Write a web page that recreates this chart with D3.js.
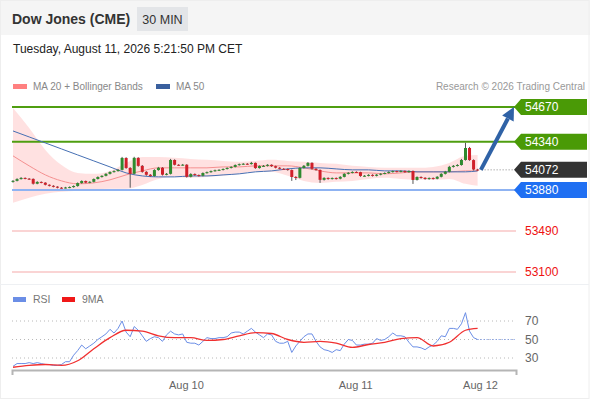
<!DOCTYPE html>
<html>
<head>
<meta charset="utf-8">
<script src="https://cdn.jsdelivr.net/npm/d3@7"></script>
<style>
    body { margin: 0; background: #fff; }
    svg { display: block; font-family: "Liberation Sans", Arial, sans-serif; }
</style>
</head>
<body>
<div id="chart"></div>
<script>
// candles, 30 min, index 0..115
const opens = [53958,53967,53984,53995,53988,53986,53940,53957,53950,53930,
    53920,53912,53902,53900,53904,53908,53918,53946,53966,53950,
    53958,53985,54004,54015,54034,54052,54060,54072,54185,54090,
    54035,54186,54110,54053,54025,54013,54070,54092,54026,54034,
    54166,54120,54118,54121,54006,54032,54022,54016,54042,54050,
    54060,54068,54072,54080,54090,54100,54118,54126,54130,54127,
    54138,54089,54108,54110,54120,54107,54092,54082,54080,54070,
    54004,53996,54090,54110,54138,54082,54071,53977,53995,53986,
    53994,53988,54005,54034,54044,54052,54050,54014,54016,54024,
    54015,54026,54035,54042,54052,54060,54054,54062,54050,54061,
    53976,54004,53996,53985,53994,53987,54006,54034,54054,54100,
    54110,54118,54166,54280,54165,54075];
const closes = [53967,53984,53995,53988,53986,53940,53957,53950,53930,53920,
    53912,53902,53900,53904,53908,53918,53946,53966,53950,53958,
    53985,54004,54015,54034,54052,54060,54072,54185,54090,54035,
    54186,54110,54053,54025,54013,54070,54092,54026,54034,54166,
    54120,54118,54121,54006,54032,54022,54016,54042,54050,54060,
    54068,54072,54080,54090,54100,54118,54126,54130,54127,54138,
    54089,54108,54110,54120,54107,54092,54082,54080,54070,54004,
    53996,54090,54110,54138,54082,54071,53977,53995,53986,53994,
    53988,54005,54034,54044,54052,54050,54014,54016,54024,54015,
    54026,54035,54042,54052,54060,54054,54062,54050,54061,53976,
    54004,53996,53985,53994,53987,54006,54034,54054,54100,54110,
    54118,54166,54280,54165,54075,54072];
const highs = [53975,53992,54003,54000,53994,53990,53964,53962,53954,53934,
    53926,53916,53908,53910,53914,53924,53952,53972,53970,53964,
    53990,54010,54020,54040,54058,54068,54080,54195,54192,54098,
    54196,54192,54118,54060,54032,54078,54100,54098,54042,54176,
    54172,54126,54128,54126,54040,54038,54028,54048,54056,54066,
    54074,54078,54086,54096,54106,54124,54132,54136,54136,54148,
    54142,54114,54118,54126,54124,54112,54098,54088,54086,54076,
    54012,54098,54118,54146,54144,54088,54076,54002,54000,54000,
    54000,54012,54040,54050,54058,54058,54054,54022,54030,54030,
    54032,54040,54048,54058,54066,54064,54068,54066,54068,54066,
    54010,54010,54002,54000,54000,54012,54040,54062,54110,54118,
    54126,54176,54330,54290,54172,54082];
const lows = [53950,53962,53980,53982,53978,53932,53935,53944,53924,53914,
    53905,53896,53893,53895,53898,53902,53912,53940,53944,53945,
    53952,53980,53998,54010,54028,54046,54055,54066,54082,53902,
    54028,54102,54045,54016,54005,54008,54064,54018,54020,54028,
    54114,54110,54112,53998,54000,54015,54008,54010,54036,54044,
    54055,54062,54066,54075,54085,54095,54112,54120,54120,54122,
    54082,54084,54102,54104,54100,54086,54076,54074,54064,53967,
    53975,53990,54084,54104,54074,54064,53948,53970,53978,53980,
    53980,53982,54000,54028,54038,54042,54006,54008,54010,54008,
    54010,54020,54030,54036,54046,54048,54048,54044,54044,53938,
    53970,53988,53978,53978,53980,53982,54000,54028,54048,54094,
    54104,54112,54160,54158,54066,54062];

// indicators, sampled every 4 candles
const indIdx = [0,4,8,12,16,20,24,28,32,36,40,44,48,52,56,60,64,68,72,76,80,84,88,92,96,100,104,108,112,115];
const ma20 = [54205,54110,54024,53967,53939,53948,53977,54024,54062,54091,54091,54091,54091,54100,54100,
    54110,54110,54110,54091,54062,54043,54043,54043,54034,54043,54053,54053,54053,54062,54062];
const ma50 = [54442,54385,54328,54271,54214,54157,54100,54043,54014,54005,54005,54014,54014,54024,54034,
    54053,54062,54081,54091,54091,54081,54072,54072,54062,54062,54053,54053,54053,54053,54062];
const bandUpper = [54660,54470,54262,54119,54043,54034,54062,54138,54195,54195,54186,54176,54167,54157,54148,
    54157,54167,54157,54148,54138,54129,54110,54100,54091,54091,54091,54100,54138,54205,54214];
const bandLower = [53758,53806,53844,53863,53872,53882,53891,53891,53929,53986,54005,53996,54005,54015,54034,
    54053,54053,54015,53967,53948,53958,53967,53986,53996,53986,53977,53977,53986,53939,53920];

// RSI per candle, 9MA sampled
const rsi = [21,24,24,24,25,24,25,24,23,23,22,22,23,26,26,33,38,44,40,43,
    46,50,53,56,61,57,62,70,58,53,64,60,54,48,51,53,52,48,55,59,
    56,55,56,47,46,46,44,48,52,51,51,52,52,53,57,58,58,56,59,62,
    58,55,52,56,55,48,46,46,48,36,43,48,53,56,56,48,42,39,38,36,
    39,38,45,50,49,44,44,45,45,46,51,49,50,53,57,54,54,53,47,42,
    42,41,39,42,44,48,54,53,62,62,61,67,79,59,52,50];
const rsiMa = [20,22,23,22,27,40,52,60,59,54,52,52,49,50,54,57.5,56.5,50,47,48,46,41.5,44.6,47,51,52,43,47,60,62];

const levels = [
    { value: 54670, kind: 'resistance' },
    { value: 54340, kind: 'resistance' },
    { value: 53880, kind: 'pivot' },
    { value: 53490, kind: 'support' },
    { value: 53100, kind: 'support' }
];
const lastPrice = 54072;
const target = 54670;
const rsiTicks = [70, 50, 30];
const timeTicks = [42.8, 84.7, 115.6];
const timeLabels = ['Aug 10', 'Aug 11', 'Aug 12'];

const width = 590, height = 400;

const svg = d3.select('#chart').append('svg')
    .attr('width', width)
    .attr('height', height);

// header band
svg.append('rect')
    .attr('width', width).attr('height', 35)
    .attr('fill', '#f5f5f5');
svg.append('text')
    .attr('x', 12).attr('y', 24)
    .attr('font-size', 14).attr('font-weight', 'bold')
    .attr('fill', '#333')
    .text('Dow Jones (CME)');
svg.append('rect')
    .attr('x', 137).attr('y', 7).attr('width', 51).attr('height', 24)
    .attr('fill', '#e3e5e8');
svg.append('text')
    .attr('x', 162.5).attr('y', 23.5)
    .attr('text-anchor', 'middle')
    .attr('font-size', 12.5).attr('fill', '#333')
    .text('30 MIN');
svg.append('text')
    .attr('x', 13).attr('y', 53)
    .attr('font-size', 12).attr('fill', '#222')
    .text('Tuesday, August 11, 2026 5:21:50 PM CET');

// outer frame, panel separator
svg.append('rect')
    .attr('x', 0.5).attr('y', 0.5).attr('width', width - 1.5).attr('height', height - 2)
    .attr('fill', 'none').attr('stroke', '#eeeeee');
svg.append('line')
    .attr('x1', 0).attr('x2', width - 1).attr('y1', 284.5).attr('y2', 284.5)
    .attr('stroke', '#eef0f3');

// legend
const legend = [
    { x: 13, color: '#ff8080', label: 'MA 20 + Bollinger Bands' },
    { x: 156, color: '#3a609e', label: 'MA 50' }
];
legend.forEach(d => {
    svg.append('rect').attr('x', d.x).attr('y', 84).attr('width', 14).attr('height', 5).attr('fill', d.color);
    svg.append('text').attr('x', d.x + 20).attr('y', 90)
        .attr('font-size', 10).attr('fill', '#888').text(d.label);
});
svg.append('text')
    .attr('x', 585).attr('y', 90)
    .attr('text-anchor', 'end')
    .attr('font-size', 10).attr('fill', '#999')
    .text('Research \u00a9 2026 Trading Central');

// scales
const x = d3.scaleLinear().domain([-0.25, 124.5]).range([12, 516]);
const y = d3.scaleLinear().domain([53100, 54670]).range([272, 107]);
const yR = d3.scaleLinear().domain([30, 70]).range([358, 321]);

const main = svg.append('g');

// bollinger band
const bandData = indIdx.map((d, i) => ({ i: d, up: bandUpper[i], lo: bandLower[i], m20: ma20[i], m50: ma50[i] }));
main.append('path')
    .datum(bandData)
    .attr('fill', '#ffdede')
    .attr('opacity', 0.9)
    .attr('d', d3.area().curve(d3.curveMonotoneX)
        .x(d => x(d.i)).y0(d => y(d.lo)).y1(d => y(d.up)));

// level lines
const levelStyle = {
    resistance: { stroke: '#4f9e10', width: 2 },
    pivot: { stroke: '#8fb3f2', width: 2 },
    support: { stroke: '#f6a9a9', width: 1.2 }
};
main.selectAll('.level')
    .data(levels)
    .join('line')
    .attr('class', 'level')
    .attr('x1', 12).attr('x2', 516)
    .attr('y1', d => y(d.value)).attr('y2', d => y(d.value))
    .attr('stroke', d => levelStyle[d.kind].stroke)
    .attr('stroke-width', d => levelStyle[d.kind].width);

// moving averages
main.append('path')
    .datum(bandData)
    .attr('fill', 'none').attr('stroke', '#f59090').attr('stroke-width', 1)
    .attr('d', d3.line().curve(d3.curveMonotoneX).x(d => x(d.i)).y(d => y(d.m20)));
main.append('path')
    .datum(bandData)
    .attr('fill', 'none').attr('stroke', '#4670b4').attr('stroke-width', 1)
    .attr('d', d3.line().curve(d3.curveMonotoneX).x(d => x(d.i)).y(d => y(d.m50)));

// candles
const candles = closes.map((c, i) => ({ i, o: opens[i], h: highs[i], l: lows[i], c }));
const candleColor = d => d.c >= d.o ? '#2f8a2f' : '#d0202a';
main.selectAll('.wick')
    .data(candles)
    .join('line')
    .attr('class', 'wick')
    .attr('x1', d => x(d.i)).attr('x2', d => x(d.i))
    .attr('y1', d => y(d.h)).attr('y2', d => y(d.l))
    .attr('stroke', '#555').attr('stroke-width', 1);
main.selectAll('.body')
    .data(candles)
    .join('rect')
    .attr('class', 'body')
    .attr('x', d => x(d.i) - 1.5)
    .attr('width', 3)
    .attr('y', d => y(Math.max(d.o, d.c)))
    .attr('height', d => Math.max(1, Math.abs(y(d.o) - y(d.c))))
    .attr('fill', candleColor);

// last price dotted line
main.append('line')
    .attr('x1', x(115) + 4).attr('x2', 514)
    .attr('y1', y(lastPrice)).attr('y2', y(lastPrice))
    .attr('stroke', '#888').attr('stroke-dasharray', '1,2');

// target arrow
const ax1 = x(115.8), ay1 = y(lastPrice), ax2 = x(124), ay2 = y(target);
const ang = Math.atan2(ay2 - ay1, ax2 - ax1);
const headLen = 13, headW = 6.5;
const bx = ax2 - headLen * Math.cos(ang), by = ay2 - headLen * Math.sin(ang);
main.append('line')
    .attr('x1', ax1).attr('y1', ay1).attr('x2', bx).attr('y2', by)
    .attr('stroke', '#2f62a6').attr('stroke-width', 4);
main.append('path')
    .attr('fill', '#2f62a6')
    .attr('d', `M${ax2},${ay2}L${bx + headW * Math.sin(ang)},${by - headW * Math.cos(ang)}L${bx - headW * Math.sin(ang)},${by + headW * Math.cos(ang)}Z`);

// price tags
const tags = [
    { value: 54670, fill: '#4a9a06' },
    { value: 54340, fill: '#4a9a06' },
    { value: lastPrice, fill: '#333333' },
    { value: 53880, fill: '#1f6ff2' }
];
const tagG = main.selectAll('.tag')
    .data(tags)
    .join('g')
    .attr('class', 'tag')
    .attr('transform', d => `translate(514,${y(d.value)})`);
tagG.append('path')
    .attr('d', 'M0,0L7,-8L73,-8L73,8L7,8Z')
    .attr('fill', d => d.fill);
tagG.append('text')
    .attr('x', 11).attr('dy', '0.36em')
    .attr('font-size', 12).attr('fill', '#fff')
    .text(d => d.value);
main.selectAll('.support-label')
    .data(levels.filter(d => d.kind === 'support'))
    .join('text')
    .attr('class', 'support-label')
    .attr('x', 525).attr('y', d => y(d.value)).attr('dy', '0.36em')
    .attr('font-size', 12).attr('fill', '#ee1111')
    .text(d => d.value);

// RSI panel
const rsiG = svg.append('g');
const rsiLegend = [
    { x: 13, color: '#6b8ee6', label: 'RSI' },
    { x: 62, color: '#f01818', label: '9MA' }
];
rsiLegend.forEach(d => {
    rsiG.append('rect').attr('x', d.x).attr('y', 297).attr('width', 13).attr('height', 5).attr('fill', d.color);
    rsiG.append('text').attr('x', d.x + 20).attr('y', 303)
        .attr('font-size', 10.5).attr('fill', '#777').text(d.label);
});

rsiG.selectAll('.grid')
    .data(rsiTicks)
    .join('line')
    .attr('class', 'grid')
    .attr('x1', 12).attr('x2', 516)
    .attr('y1', d => yR(d)).attr('y2', d => yR(d))
    .attr('stroke', '#b8b8b8').attr('stroke-dasharray', '1,3');
rsiG.selectAll('.rsi-label')
    .data(rsiTicks)
    .join('text')
    .attr('class', 'rsi-label')
    .attr('x', 525).attr('y', d => yR(d)).attr('dy', '0.36em')
    .attr('font-size', 12).attr('fill', '#666')
    .text(d => d);

rsiG.append('path')
    .datum(rsi)
    .attr('fill', 'none').attr('stroke', '#6b8ee6').attr('stroke-width', 1)
    .attr('d', d3.line().x((d, i) => x(i)).y(d => yR(d)));
rsiG.append('line')
    .attr('x1', x(115)).attr('x2', 516)
    .attr('y1', yR(rsi[115])).attr('y2', yR(rsi[115]))
    .attr('stroke', '#6b8ee6').attr('stroke-dasharray', '1,2');
rsiG.append('path')
    .datum(rsiMa)
    .attr('fill', 'none').attr('stroke', '#f03030').attr('stroke-width', 1.3)
    .attr('d', d3.line().curve(d3.curveMonotoneX).x((d, i) => x(indIdx[i])).y(d => yR(d)));

// time axis
const xAxis = d3.axisBottom(x)
    .tickValues(timeTicks)
    .tickFormat((d, i) => timeLabels[i])
    .tickSizeInner(0)
    .tickSizeOuter(5)
    .tickPadding(11);
const xAxisG = svg.append('g')
    .attr('transform', 'translate(0,370)')
    .call(xAxis);
xAxisG.select('.domain').attr('stroke', '#b5b5b5').attr('stroke-width', 2);
xAxisG.selectAll('text')
    .attr('font-family', '"Liberation Sans", Arial, sans-serif')
    .attr('font-size', 11).attr('fill', '#666');
</script>
</body>
</html>
